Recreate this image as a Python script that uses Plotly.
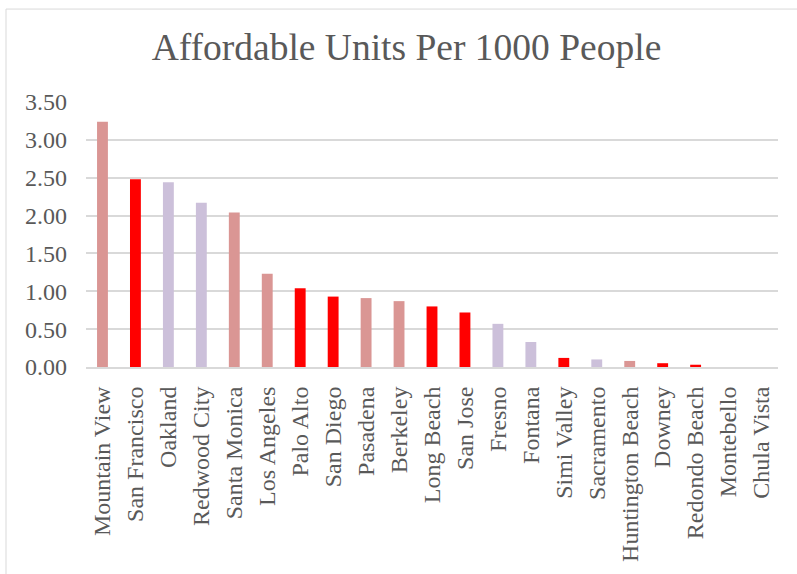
import plotly.graph_objects as go

cities = ["Mountain View", "San Francisco", "Oakland", "Redwood City", "Santa Monica",
          "Los Angeles", "Palo Alto", "San Diego", "Pasadena", "Berkeley",
          "Long Beach", "San Jose", "Fresno", "Fontana", "Simi Valley",
          "Sacramento", "Huntington Beach", "Downey", "Redondo Beach", "Montebello",
          "Chula Vista"]
units_per_1000 = [3.24, 2.48, 2.44, 2.17, 2.04,
                  1.23, 1.04, 0.93, 0.91, 0.87,
                  0.80, 0.72, 0.57, 0.33, 0.12,
                  0.10, 0.08, 0.05, 0.03, 0.0,
                  0.0]
PINK, RED, LAV = "#DA9694", "#FF0000", "#CCC0DA"
bar_colors = [PINK, RED, LAV, LAV, PINK,
              PINK, RED, RED, PINK, PINK,
              RED, RED, LAV, LAV, RED,
              LAV, PINK, RED, RED, PINK,
              PINK]
y_ticks = [0, 0.5, 1.0, 1.5, 2.0, 2.5, 3.0, 3.5]

FONT = "Liberation Serif, Times New Roman, serif"
GRAY = "#595959"

fig = go.Figure(go.Bar(x=cities, y=units_per_1000, marker_color=bar_colors,
                       marker_line_width=0))

L, R, T, B = 86, 19, 102, 204
W, H = 797, 574
pw, ph = W - L - R, H - T - B

fig.update_layout(
    width=W, height=H,
    margin=dict(l=L, r=R, t=T, b=B, pad=0),
    paper_bgcolor="white", plot_bgcolor="white",
    bargap=0.67,
    showlegend=False,
    title=dict(text="Affordable Units Per 1000 People", x=406.5 / W, xanchor="center",
               y=1 - 60 / H, yanchor="bottom",
               font=dict(family=FONT, size=37.5, color=GRAY)),
    font=dict(family=FONT, color=GRAY),
    xaxis=dict(tickangle=-90, tickfont=dict(family=FONT, size=24, color=GRAY),
               showgrid=False, showline=True, linecolor="#D9D9D9", linewidth=2,
               ticks="", ticklabelstandoff=8),
    yaxis=dict(range=[0, 3.5], tickvals=y_ticks, tickformat=".2f",
               tickfont=dict(family=FONT, size=24, color=GRAY),
               showgrid=True, gridcolor="#D9D9D9", gridwidth=2,
               zeroline=False, showline=False, ticks="", ticklabelstandoff=18),
    shapes=[dict(type="rect", xref="paper", yref="paper",
                 x0=(6 - L) / pw, x1=(W + 10 - L) / pw,
                 y0=-(H + 10 - (H - B)) / ph, y1=(H - B - 8) / ph,
                 line=dict(color="#D9D9D9", width=1), fillcolor="rgba(0,0,0,0)",
                 layer="below")],
)

fig.write_html("out.html")
